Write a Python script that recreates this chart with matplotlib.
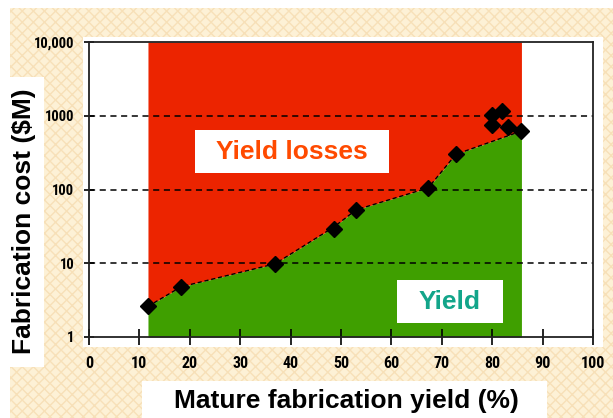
import numpy as np
import matplotlib.pyplot as plt
from matplotlib.patches import Rectangle

# measured points (mature yield %, fab cost $M)
yield_pct = [11.7, 18.3, 36.9, 48.6, 53.0, 67.3, 72.8, 79.9, 81.9, 79.9, 83.1, 85.8]
cost_musd = [2.6, 4.8, 9.8, 29, 53, 105, 300, 1020, 1170, 750, 710, 620]

# curve separating yield from yield losses
edge_x = [11.7, 18.3, 36.9, 48.6, 53.0, 67.3, 72.8, 85.8]
edge_y = [2.6, 4.8, 9.8, 31, 53, 105, 300, 620]

grid_levels = [10, 100, 1000]
ytick_vals = [1, 10, 100, 1000, 10000]
ytick_text = ['1', '10', '100', '1000', '10,000']
xtick_vals = list(range(0, 101, 10))

W, H = 613, 418
fig = plt.figure(figsize=(W / 100, H / 100), dpi=100)
fig.patch.set_facecolor('white')

def box(x0, y0, x1, y1, z=-10, **kw):
    # pixel coords (top-left origin) -> figure rectangle
    r = Rectangle((x0 / W, 1 - y1 / H), (x1 - x0) / W, (y1 - y0) / H,
                  transform=fig.transFigure, zorder=z, **kw)
    fig.patches.append(r)

# beige patterned backdrop and white panels
box(10, 8, 613, 418, facecolor='#fdf1d6', edgecolor='#f7e0b8', hatch='xxx', linewidth=0)
box(83, 37, 603, 347, facecolor='white', edgecolor='none')
box(0, 77, 44, 367, facecolor='white', edgecolor='none')
box(142, 381, 547, 418, facecolor='white', edgecolor='none')

ax = fig.add_axes([89 / W, 1 - 337 / H, (593 - 89) / W, (337 - 42) / H])
ax.set_facecolor('white')
ax.set_yscale('log')
ax.set_xlim(0, 100)
ax.set_ylim(1, 10000)

ax.fill_between(edge_x, edge_y, 10000, color='#ec2400', linewidth=0, zorder=1)
ax.fill_between(edge_x, 1, edge_y, color='#3f9f00', linewidth=0, zorder=1)

for g in grid_levels:
    ax.axhline(g, color='black', linestyle=(0, (4, 3)), linewidth=1.1, zorder=2)

ax.plot(edge_x, edge_y, color='black', linestyle=(0, (3, 2)), linewidth=1, zorder=3)
ax.plot(yield_pct, cost_musd, 'D', color='black', markersize=8.5, zorder=4)

# white label panels (pixel boxes), drawn over the axes
box(195, 130, 389, 173, z=5, facecolor='white', edgecolor='none')
box(397, 280, 503, 323, z=5, facecolor='white', edgecolor='none')
fig.text(292 / W, 1 - 152 / H, 'Yield losses', color='#ff4a00', fontsize=19,
         fontweight='bold', family='Liberation Sans', ha='center', va='center', zorder=6)
fig.text(450 / W, 1 - 302 / H, 'Yield', color='#13a58a', fontsize=19,
         fontweight='bold', family='Liberation Sans', ha='center', va='center', zorder=6)

ax.set_xticks(xtick_vals)
ax.set_yticks(ytick_vals)
ax.set_yticklabels(ytick_text)
ax.minorticks_off()
ax.tick_params(axis='x', direction='inout', length=11, width=1.2, labelsize=11.5, pad=8)
ax.tick_params(axis='y', direction='inout', length=7, width=1.2, labelsize=10.5, pad=7)
for lab in ax.get_xticklabels() + ax.get_yticklabels():
    lab.set_fontweight('bold')
    lab.set_family(['Roboto Condensed', 'DejaVu Sans'])
for s in ax.spines.values():
    s.set_color('#222222')
    s.set_linewidth(1.3)

fig.text(346 / W, 1 - 401 / H, 'Mature fabrication yield (%)', fontsize=19,
         fontweight='bold', family='Liberation Sans', ha='center', va='center')
fig.text(24 / W, 1 - 221 / H, 'Fabrication cost ($M)', fontsize=19, rotation=90,
         fontweight='bold', family='Liberation Sans', ha='center', va='center')

fig.savefig('out.png', dpi=100)
